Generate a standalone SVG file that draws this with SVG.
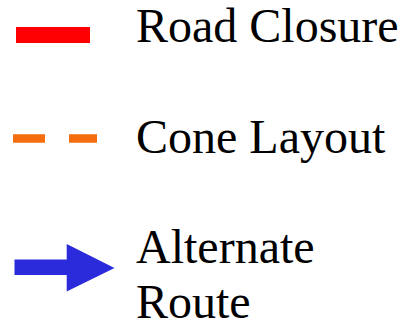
<svg xmlns="http://www.w3.org/2000/svg" width="414" height="327" viewBox="0 0 414 327">
<style>
.lbl{font-family:"Liberation Serif","Times New Roman",serif;font-size:48px;fill:#000}
</style>
<rect width="414" height="327" fill="#fff"/>
<g id="road-closure">
<rect x="16" y="27" width="74" height="16" fill="#ff0000"/>
<text class="lbl" x="136" y="42">Road Closure</text>
</g>
<g id="cone-layout">
<line x1="13" y1="138.5" x2="97" y2="138.5" stroke="#f66d10" stroke-width="8.5" stroke-dasharray="32 24"/>
<text class="lbl" x="136" y="153">Cone Layout</text>
</g>
<g id="alternate-route">
<polygon points="14.5,259.5 66.7,259.5 66.7,244 114.5,268 66.7,291.5 66.7,275 14.5,275" fill="#2b2bdb"/>
<text class="lbl" x="136" y="263">Alternate</text>
<text class="lbl" x="136" y="318">Route</text>
</g>
</svg>
